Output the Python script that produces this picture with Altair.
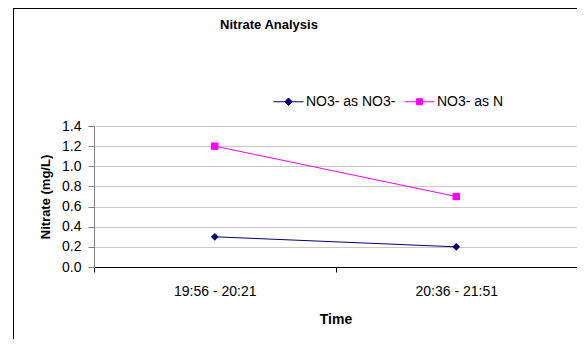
import altair as alt
import pandas as pd

periods = ["19:56 - 20:21", "20:36 - 21:51"]
series_names = ["NO3- as NO3-", "NO3- as N"]
no3_as_no3 = [0.3, 0.2]
no3_as_n = [1.2, 0.7]
colors = ["#000080", "#FF00FF"]
y_ticks = [0.0, 0.2, 0.4, 0.6, 0.8, 1.0, 1.2, 1.4]
chart_title = "Nitrate  Analysis"

rows = []
for p, v in zip(periods, no3_as_no3):
    rows.append({"Time": p, "Series": series_names[0], "Value": v})
for p, v in zip(periods, no3_as_n):
    rows.append({"Time": p, "Series": series_names[1], "Value": v})
df = pd.DataFrame(rows)

FONT = "Liberation Sans"

x_enc = alt.X("Time:N", sort=periods, scale=alt.Scale(paddingInner=0, paddingOuter=0),
              axis=alt.Axis(title="Time", labelAngle=0, labelPadding=12, titlePadding=14,
                            tickBand="extent", tickSize=5, domainColor="#000000",
                            tickColor="#000000", labelFontSize=14, titleFontSize=14,
                            titleFontWeight="bold", grid=False))
y_enc = alt.Y("Value:Q", scale=alt.Scale(domain=[0, 1.4], nice=False),
              axis=alt.Axis(title="Nitrate (mg/L)", values=y_ticks, format=".1f",
                            tickSize=6, domainColor="#808080", tickColor="#808080",
                            gridColor="#c8c8c8", labelFontSize=14, titleFontSize=13,
                            titleFontWeight="bold", titlePadding=9, labelPadding=7))
color_scale = alt.Scale(domain=series_names, range=colors)

diamond_path = "M-1,0H1M0,-0.25L0.25,0L0,0.25L-0.25,0Z"
square_path = "M-1,0H1M-0.2,-0.2H0.2V0.2H-0.2Z"

leg = alt.Legend(title=None, orient="none", legendX=179, legendY=-40,
                 direction="horizontal", symbolSize=900, labelFontSize=14,
                 labelFont=FONT, columnPadding=6, labelOffset=2,
                 symbolOpacity=1, symbolStrokeWidth=1)

legend_layer = alt.Chart(df).mark_point(filled=True, size=1).encode(
    x=x_enc, y=y_enc,
    fill=alt.Fill("Series:N", scale=color_scale, legend=leg),
    stroke=alt.Stroke("Series:N", scale=color_scale, legend=leg),
    shape=alt.Shape("Series:N", scale=alt.Scale(domain=series_names, range=[diamond_path, square_path]),
                    legend=leg),
)

lines = alt.Chart(df).mark_line(strokeWidth=1).encode(
    x=x_enc, y=y_enc,
    color=alt.Color("Series:N", scale=color_scale, legend=None),
    detail="Series:N",
)

diamonds = alt.Chart(df).transform_filter(
    alt.datum.Series == series_names[0]
).mark_point(filled=True, size=60, opacity=1, shape="diamond", color=colors[0]).encode(x=x_enc, y=y_enc)

squares = alt.Chart(df).transform_filter(
    alt.datum.Series == series_names[1]
).mark_point(filled=True, size=55, opacity=1, shape="square", color=colors[1]).encode(x=x_enc, y=y_enc)

one = alt.Data(values=[{"k": 1}])
frame = alt.Chart(one).mark_rule(color="#000000", strokeWidth=1).encode(
    x=alt.value(-80.5), y=alt.value(-118), y2=alt.value(260)
)
frame_top = alt.Chart(one).mark_rule(color="#000000", strokeWidth=1).encode(
    x=alt.value(-80.5), x2=alt.value(600), y=alt.value(-117.5)
)
title_text = alt.Chart(one).mark_text(
    text=chart_title, font=FONT, fontSize=13, fontWeight="bold", color="#000000",
    align="center", baseline="middle"
).encode(x=alt.value(175), y=alt.value(-101))

chart = alt.layer(frame, frame_top, title_text, legend_layer, lines, diamonds, squares).properties(
    width=483, height=141,
    autosize=alt.AutoSizeParams(type="none"),
    padding={"left": 86, "top": 118, "right": 0, "bottom": 72},
).configure(font=FONT).configure_view(stroke=None).configure_axis(
    labelFont=FONT, titleFont=FONT, labelColor="#000000", titleColor="#000000"
)

chart.save("out.html", embed_options={"renderer": "svg", "actions": False})
